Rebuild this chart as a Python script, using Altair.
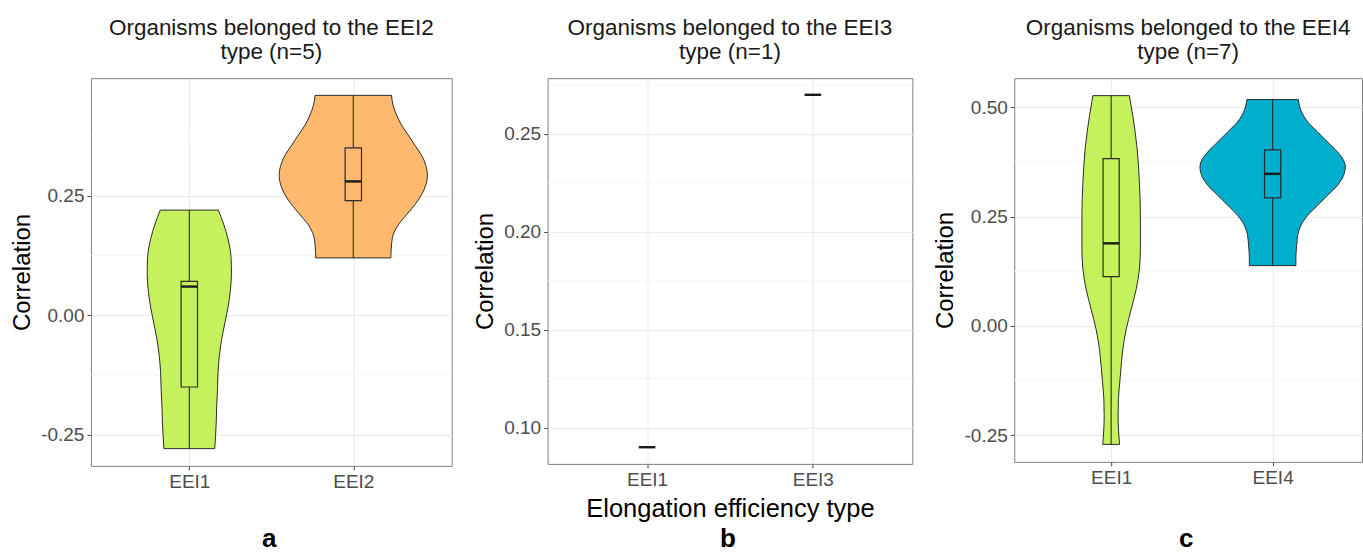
import altair as alt
import pandas as pd

FONT = "Liberation Sans"

# ---------------- data ----------------
panel_titles = [
    ["Organisms belonged to the EEI2", "type (n=5)"],
    ["Organisms belonged to the EEI3", "type (n=1)"],
    ["Organisms belonged to the EEI4", "type (n=7)"],
]
panel_cats = [["EEI1", "EEI2"], ["EEI1", "EEI3"], ["EEI1", "EEI4"]]
panel_letters = ["a", "b", "c"]
x_titles = [None, "Elongation efficiency type", None]
y_title = "Correlation"

all_cats = ["EEI1", "EEI2", "EEI3", "EEI4"]
cat_colors = ["#C5F25C", "#FFB96E", "#9AD0E0", "#00AECD"]

# y tick labels (major) and minor grid positions
y_major = [[-0.25, 0.0, 0.25], [0.10, 0.15, 0.20, 0.25], [-0.25, 0.0, 0.25, 0.50]]
y_minor = [[-0.125, 0.125, 0.375], [0.125, 0.175, 0.225, 0.275], [-0.125, 0.125, 0.375]]

# violin outlines: correlation value and half-width (in category units)
a_eei1_val = [0.220, 0.193, 0.158, 0.123, 0.089, 0.054, 0.019, -0.016, -0.051,
              -0.086, -0.120, -0.155, -0.190, -0.225, -0.279]
a_eei1_half = [0.177, 0.207, 0.237, 0.254, 0.257, 0.251, 0.237, 0.217, 0.197,
               0.183, 0.175, 0.172, 0.167, 0.164, 0.155]

a_eei2_val = [0.460, 0.439, 0.419, 0.398, 0.377, 0.356, 0.335, 0.314, 0.293,
              0.272, 0.252, 0.231, 0.210, 0.189, 0.168, 0.147, 0.120]
a_eei2_half = [0.233, 0.243, 0.264, 0.294, 0.335, 0.375, 0.416, 0.442, 0.452,
               0.442, 0.416, 0.375, 0.324, 0.274, 0.243, 0.233, 0.229]

c_eei1_val = [0.527, 0.481, 0.405, 0.328, 0.252, 0.176, 0.130, 0.084, 0.038,
              -0.008, -0.054, -0.092, -0.130, -0.168, -0.206, -0.240, -0.271]
c_eei1_half = [0.113, 0.134, 0.161, 0.175, 0.181, 0.181, 0.175, 0.155, 0.124,
               0.093, 0.072, 0.062, 0.053, 0.045, 0.043, 0.046, 0.052]

c_eei4_val = [0.518, 0.490, 0.467, 0.444, 0.421, 0.398, 0.375, 0.364, 0.344,
              0.322, 0.299, 0.276, 0.253, 0.230, 0.207, 0.184, 0.157, 0.138]
c_eei4_half = [0.159, 0.179, 0.217, 0.278, 0.340, 0.402, 0.444, 0.450, 0.439,
               0.402, 0.340, 0.278, 0.217, 0.175, 0.155, 0.149, 0.144, 0.144]

violins = [
    [("EEI1", 1, a_eei1_val, a_eei1_half), ("EEI2", 2, a_eei2_val, a_eei2_half)],
    [],
    [("EEI1", 1, c_eei1_val, c_eei1_half), ("EEI4", 2, c_eei4_val, c_eei4_half)],
]

# boxplot statistics: min, q1, median, q3, max
box_cat = [["EEI1", "EEI2"], ["EEI1", "EEI3"], ["EEI1", "EEI4"]]
box_min = [[-0.279, 0.120], [0.09, 0.27], [-0.271, 0.138]]
box_q1 = [[-0.150, 0.240], [0.09, 0.27], [0.113, 0.293]]
box_med = [[0.060, 0.280], [0.09, 0.27], [0.189, 0.348]]
box_q3 = [[0.071, 0.350], [0.09, 0.27], [0.383, 0.403]]
box_max = [[0.220, 0.460], [0.09, 0.27], [0.527, 0.518]]

# ---------------- layout / style ----------------
widths = [361, 365, 348]
heights = [388, 386, 384]
x_domains = [[0.4, 2.6], [0.4, 2.6], [0.4, 0.4 + 348 / 161.6]]
y_domains = [[-0.315, 0.496], [0.0815, 0.2785], [-0.311, 0.567]]
BOX_HALF = 0.05
LETTER_BASELINE = 469  # from plot top

color_scale = alt.Scale(domain=all_cats, range=cat_colors)


def x_axis(i):
    cats = panel_cats[i]
    expr = "[" + ",".join("'%s'" % c for c in cats) + "][datum.value - 1]"
    return alt.Axis(values=[1, 2], labelExpr=expr, title=x_titles[i],
                    grid=True, gridColor="#EBEBEB", gridWidth=1.1)


def y_axis(i):
    return alt.Axis(values=y_major[i], title=y_title, grid=True,
                    gridColor="#EBEBEB", gridWidth=1.1,
                    labelExpr="(datum.value < 0 ? '-' : '') + format(abs(datum.value), '.2f')")


def X(field, i, **kw):
    return alt.X(field, type="quantitative",
                 scale=alt.Scale(domain=x_domains[i], nice=False, zero=False),
                 axis=x_axis(i), **kw)


def Y(field, i):
    return alt.Y(field, type="quantitative",
                 scale=alt.Scale(domain=y_domains[i], nice=False, zero=False),
                 axis=y_axis(i))


def make_panel(i):
    layers = []
    minor = pd.DataFrame({"v": y_minor[i]})
    layers.append(alt.Chart(minor).mark_rule(color="#F4F4F4", strokeWidth=0.9)
                  .encode(y=Y("v", i)))

    vrows = []
    for cat, pos, vals, halves in violins[i]:
        for v, h in zip(vals, halves):
            vrows.append({"cat": cat, "pos": pos, "v": v, "half": h})
    if vrows:
        vdf = pd.DataFrame(vrows)
        layers.append(
            alt.Chart(vdf)
            .transform_calculate(lo="datum.pos - datum.half", hi="datum.pos + datum.half")
            .mark_area(orient="horizontal", interpolate="monotone",
                       stroke="#2B2B2B", strokeWidth=1.0, opacity=1)
            .encode(x=X("lo", i, stack=None), x2="hi:Q", y=Y("v", i),
                    color=alt.Color("cat:N", scale=color_scale, legend=None),
                    detail="cat:N")
        )

    bdf = pd.DataFrame({
        "cat": box_cat[i], "pos": [1, 2], "mn": box_min[i], "q1": box_q1[i],
        "med": box_med[i], "q3": box_q3[i], "mx": box_max[i],
    })
    bbase = alt.Chart(bdf).transform_calculate(
        bl="datum.pos - %f" % BOX_HALF, br="datum.pos + %f" % BOX_HALF)
    layers.append(bbase.mark_rule(color="#2B2B2B", strokeWidth=1.1)
                  .encode(x=X("pos", i), y=Y("mn", i), y2="mx:Q"))
    if violins[i]:
        layers.append(bbase.mark_rect(stroke="#2B2B2B", strokeWidth=1.2)
                      .encode(x=X("bl", i), x2="br:Q", y=Y("q1", i), y2="q3:Q",
                              color=alt.Color("cat:N", scale=color_scale, legend=None)))
    layers.append(bbase.mark_rule(color="#1A1A1A", strokeWidth=2.4)
                  .encode(x=X("bl", i), x2="br:Q", y=Y("med", i)))

    letter = pd.DataFrame({"t": [panel_letters[i]]})
    layers.append(alt.Chart(letter).mark_text(font=FONT, fontSize=26, fontWeight="bold",
                                              color="#000000", baseline="alphabetic",
                                              align="center")
                  .encode(text="t:N", x=alt.value(widths[i] / 2 - 2),
                          y=alt.value(LETTER_BASELINE)))

    return alt.layer(*layers).properties(
        width=widths[i], height=heights[i],
        title=alt.TitleParams(text=panel_titles[i], fontSize=22.5, font=FONT,
                              fontWeight="normal", color="#1A1A1A", anchor="middle",
                              frame="group", lineHeight=24, offset=15),
    )


chart = alt.hconcat(*[make_panel(i) for i in range(3)], spacing=20).properties(
    padding={"left": 10, "top": 16, "right": 0, "bottom": 0}
).configure_view(stroke="#7F7F7F", strokeWidth=1).configure_axis(
    labelFont=FONT, titleFont=FONT, labelFontSize=19, labelColor="#4D4D4D",
    titleFontSize=24, titleFontWeight="normal", titleColor="#000000",
    tickColor="#444444", tickSize=4, labelPadding=3, domain=False, titlePadding=6,
).configure_axisX(titleFontSize=25.5, titlePadding=7)

chart.save("out.html", embed_options={"renderer": "svg", "actions": False})
